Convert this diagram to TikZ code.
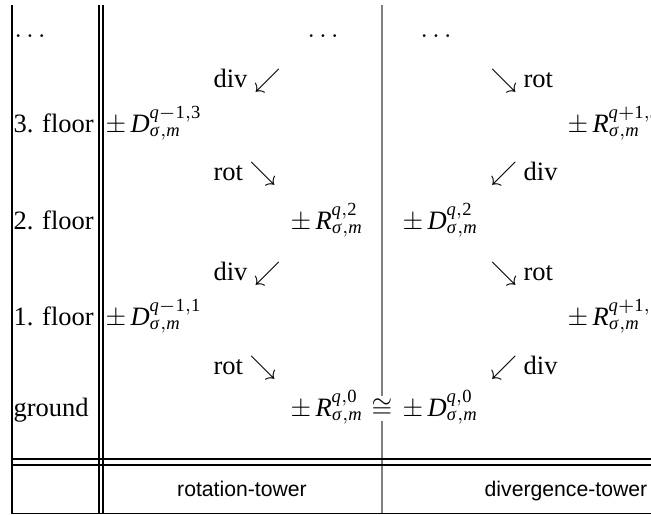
\documentclass[tikz,border=0pt]{standalone}
\usepackage{mathspec}
\setmainfont{Liberation Serif}
\setsansfont{Liberation Sans}
\setmathsfont(Digits,Latin,Greek){Liberation Serif}
\usepackage{tikz}
\usetikzlibrary{positioning}
\tikzset{
  rule/.style={line width=0.45pt},
  midrule/.style={gray,line width=0.4pt},
  cell/.style={inner sep=0pt,anchor=base west},
  foot/.style={inner sep=0pt,anchor=base,font=\sffamily\footnotesize},
}

\begin{document}
\begin{tikzpicture}[x=0.3774pt,y=-0.3774pt]
  \useasboundingbox (0,0) rectangle (651,514);
  % row heads
  \node[cell] (dotsL) at (14,37) {$\ldots$};
  \node[cell] (fl3) at (13,132) {3. floor};
  \node[cell] (fl2) at (13,229) {2. floor};
  \node[cell] (fl1) at (13,325) {1. floor};
  \node[cell] (fl0) at (13,416) {ground};
  % rotation-tower
  \node[cell] (dotsR) at (307,37) {$\ldots$};
  \node[cell] (div3) at (213,87) {div $\swarrow$};
  \node[cell] (D3) at (105,132) {$\pm\,D^{q-1,3}_{\sigma,m}$};
  \node[cell] (rot2) at (213,180) {rot $\searrow$};
  \node[cell] (R2) at (290,229) {$\pm\,R^{q,2}_{\sigma,m}$};
  \node[cell] (div1) at (213,280) {div $\swarrow$};
  \node[cell] (D1) at (105,325) {$\pm\,D^{q-1,1}_{\sigma,m}$};
  \node[cell] (rot0) at (213,374) {rot $\searrow$};
  \node[cell] (R0) at (290,416) {$\pm\,R^{q,0}_{\sigma,m}$};
  \node[inner sep=1pt,anchor=base] (iso) at (382,416) {$\cong$};
  % divergence-tower
  \node[cell] (dotsD) at (420,37) {$\ldots$};
  \node[cell] (rot3) at (490,87) {$\searrow$ rot};
  \node[cell] (R3) at (567,132) {$\pm\,R^{q+1,3}_{\sigma,m}$};
  \node[cell] (div2) at (490,180) {$\swarrow$ div};
  \node[cell] (D2) at (402,229) {$\pm\,D^{q,2}_{\sigma,m}$};
  \node[cell] (rot1) at (490,280) {$\searrow$ rot};
  \node[cell] (R1) at (567,325) {$\pm\,R^{q+1,1}_{\sigma,m}$};
  \node[cell] (div0) at (490,374) {$\swarrow$ div};
  \node[cell] (D0) at (402,416) {$\pm\,D^{q,0}_{\sigma,m}$};
  % footer
  \node[foot] (tr) at (242,496) {rotation-tower};
  \node[foot] (td) at (566,496) {divergence-tower};
  % rules
  \coordinate (top) at (382,5);
  \coordinate (bot) at (382,514);
  \draw[midrule] (top) -- (iso.north);
  \draw[midrule] (iso.south) -- (bot);
  \draw[rule] (12,5) -- (12,513.5) -- (651,513.5);
  \draw[rule] (99,5) -- (99,514);
  \draw[rule] (103,5) -- (103,514);
  \draw[rule] (12,459) -- (651,459);
  \draw[rule] (12,465) -- (651,465);
\end{tikzpicture}
\end{document}
